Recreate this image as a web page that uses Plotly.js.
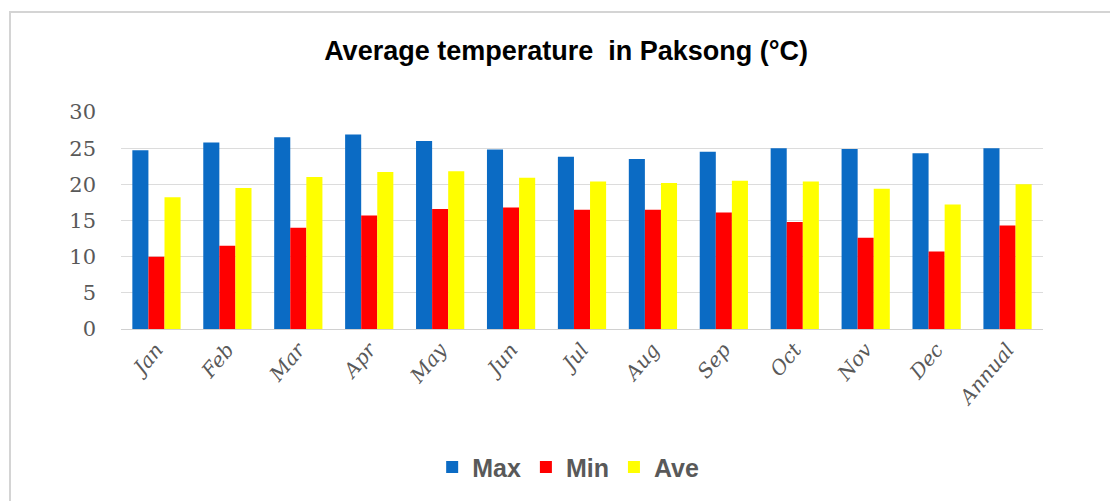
<!DOCTYPE html>
<html>
<head>
<meta charset="utf-8">
<script src="https://cdn.plot.ly/plotly-3.0.1.min.js"></script>
<style>
  html, body { margin: 0; padding: 0; background: #ffffff; }
  #frame { position: absolute; left: 9px; top: 11px; width: 1101px; height: 490px;
           border-left: 2px solid #d4d4d4; border-top: 2px solid #d4d4d4; pointer-events: none; }
  #chart { width: 1110px; height: 501px; }
</style>
</head>
<body>
<div id="chart"></div>
<div id="frame"></div>
<script>
const categories = ["Jan", "Feb", "Mar", "Apr", "May", "Jun", "Jul", "Aug", "Sep", "Oct", "Nov", "Dec", "Annual"];
const maxTemp = [24.7, 25.8, 26.5, 26.9, 26.0, 24.8, 23.8, 23.5, 24.5, 25.0, 24.9, 24.3, 25.0];
const minTemp = [10.0, 11.5, 14.0, 15.7, 16.6, 16.8, 16.5, 16.5, 16.1, 14.8, 12.6, 10.7, 14.3];
const aveTemp = [18.2, 19.5, 21.0, 21.7, 21.8, 20.9, 20.4, 20.2, 20.5, 20.4, 19.4, 17.2, 20.0];
const yTicks = [0, 5, 10, 15, 20, 25, 30];

const traces = [
  { type: "bar", name: "Max", x: categories, y: maxTemp, marker: { color: "#0b6bc4" } },
  { type: "bar", name: "Min", x: categories, y: minTemp, marker: { color: "#ff0000" } },
  { type: "bar", name: "Ave", x: categories, y: aveTemp, marker: { color: "#ffff00" } }
];

const layout = {
  width: 1110, height: 501,
  paper_bgcolor: "#ffffff", plot_bgcolor: "#ffffff",
  margin: { l: 121, r: 67, t: 112, b: 171 },
  barmode: "group", bargap: 0.32, bargroupgap: 0,
  title: {
    text: "<b>Average temperature  in Paksong (°C)</b>",
    font: { family: "Liberation Sans, Arial, sans-serif", size: 27, color: "#000000" },
    x: 0.51, xref: "container", xanchor: "center",
    y: 0.90, yref: "container", yanchor: "middle"
  },
  xaxis: {
    type: "category",
    tickangle: -50,
    tickfont: { family: "DejaVu Serif, Liberation Serif, serif", size: 20, color: "#595959", style: "italic" },
    showgrid: false, zeroline: false, showline: false, ticks: "",
    ticklabelstandoff: 4
  },
  yaxis: {
    range: [0, 30], tickvals: yTicks, ticktext: yTicks.map(String),
    tickfont: { family: "DejaVu Serif, Liberation Serif, serif", size: 21, color: "#595959" },
    showgrid: true, gridcolor: "#dcdcdc", gridwidth: 1,
    zeroline: true, zerolinecolor: "#d0d0d0", showline: false, ticks: "",
    ticklabelstandoff: 24
  },
  legend: {
    orientation: "h", x: 0.485, xanchor: "center", y: -0.63, yanchor: "middle",
    font: { family: "Liberation Sans, Arial, sans-serif", size: 25, color: "#595959", weight: "bold" },
    itemwidth: 30, tracegroupgap: 0
  },
  showlegend: true
};

Plotly.newPlot("chart", traces, layout, { displayModeBar: false, staticPlot: true });
</script>
</body>
</html>
